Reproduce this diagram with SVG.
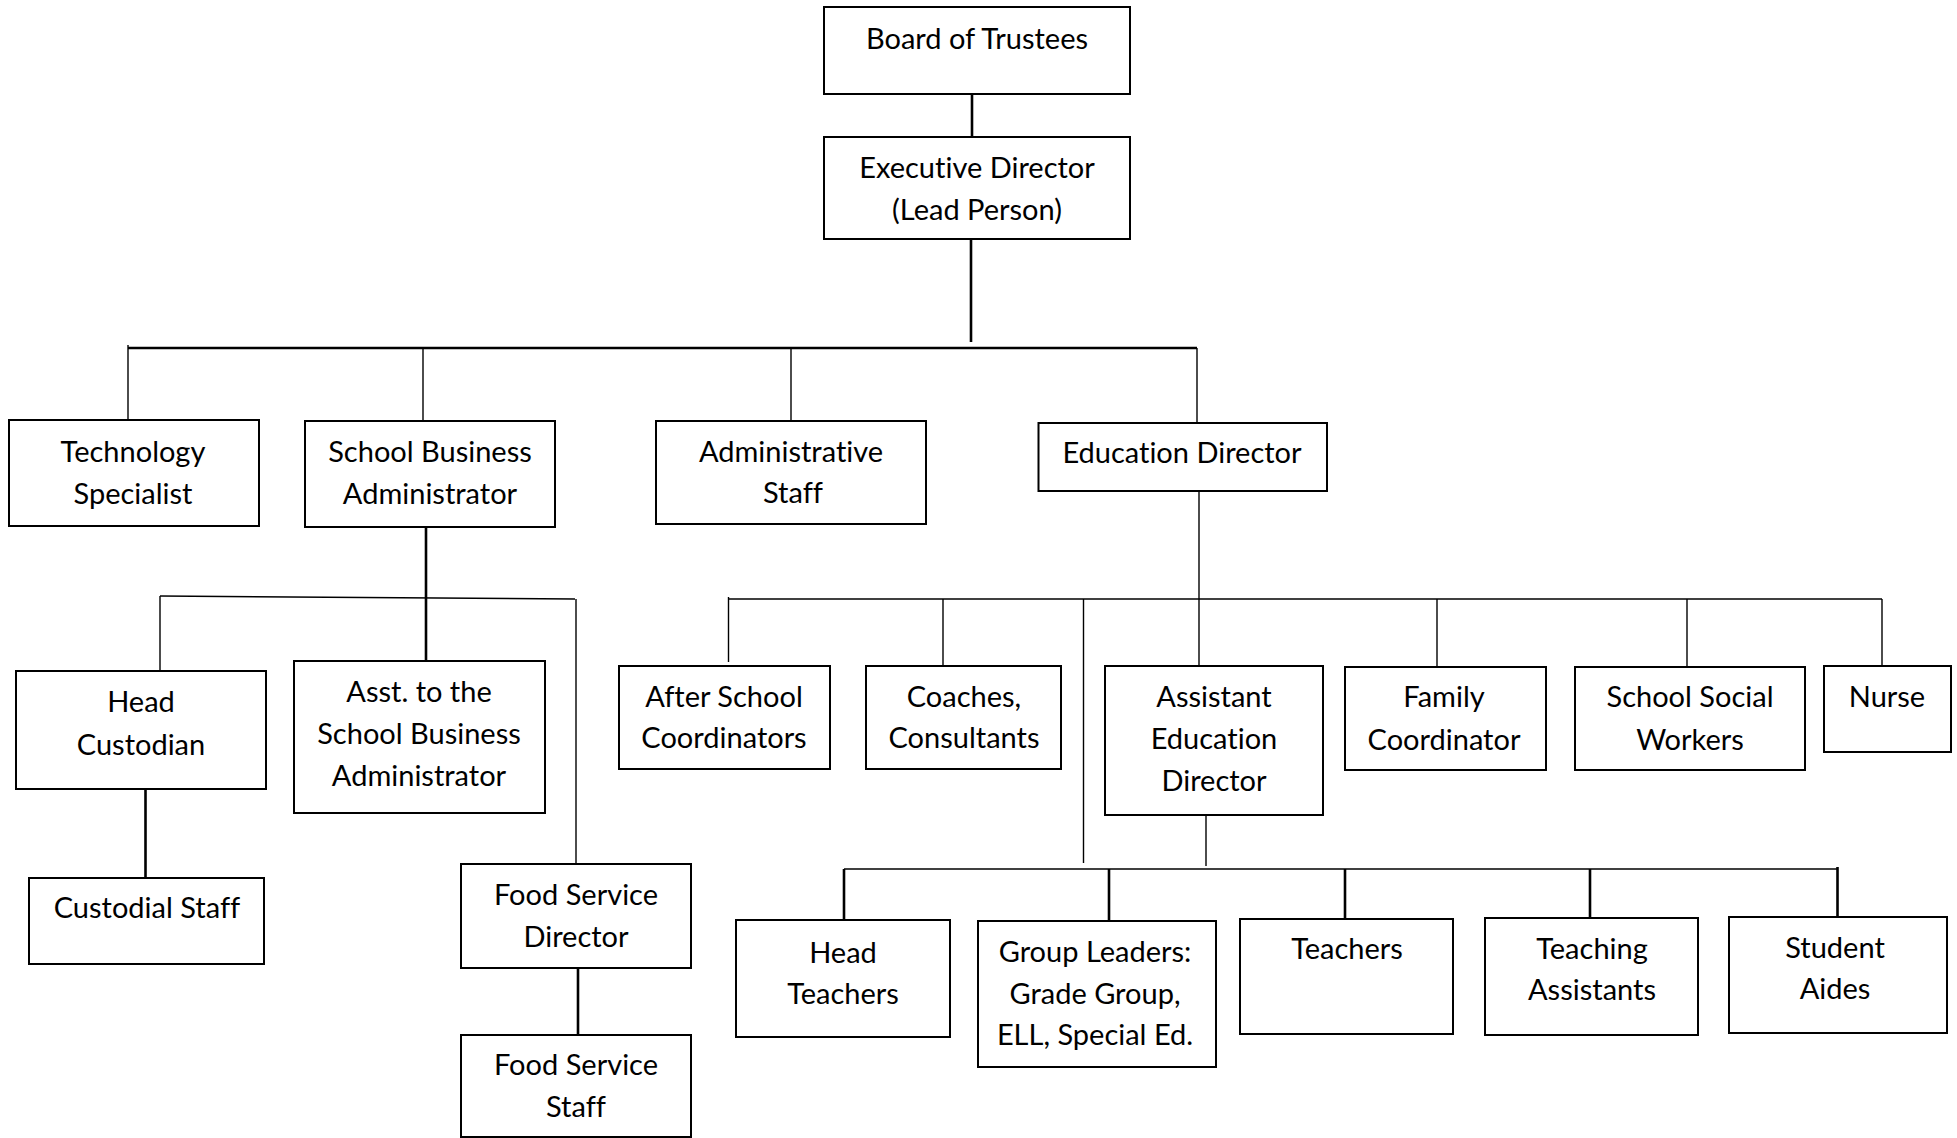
<svg xmlns="http://www.w3.org/2000/svg" width="1957" height="1138" viewBox="0 0 1957 1138">
<style>
rect{fill:#fff;stroke:#000;stroke-width:2}
text{font-family:Lato,"Liberation Sans",sans-serif;font-size:29px;fill:#000;text-anchor:middle;font-variant-ligatures:none}
.c line{stroke:#000;stroke-width:1.4}
.c line.t{stroke-width:2.6}
</style>
<rect x="0" y="0" width="1957" height="1138" style="stroke:none"/>
<g class="c" id="connectors">
<line class="t" x1="972" y1="94" x2="972" y2="137"/>
<line class="t" x1="971" y1="239" x2="971" y2="342"/>
<line class="t" x1="128" y1="348" x2="1197" y2="348"/>
<line x1="128" y1="345" x2="128" y2="420"/>
<line x1="423" y1="348" x2="423" y2="421"/>
<line x1="791" y1="348" x2="791" y2="421"/>
<line x1="1197" y1="348" x2="1197" y2="423"/>
<line class="t" x1="426" y1="527" x2="426" y2="663"/>
<line x1="160" y1="596" x2="575" y2="599"/>
<line x1="160" y1="596" x2="160" y2="671"/>
<line x1="576" y1="599" x2="576" y2="864"/>
<line class="t" x1="145.5" y1="789" x2="145.5" y2="878"/>
<line class="t" x1="578" y1="968" x2="578" y2="1035"/>
<line x1="1199" y1="491" x2="1199" y2="666"/>
<line x1="728.5" y1="599" x2="1882" y2="599"/>
<line x1="728.5" y1="597" x2="728.5" y2="662"/>
<line x1="943" y1="599" x2="943" y2="665"/>
<line x1="1083.5" y1="599" x2="1083.5" y2="863"/>
<line x1="1437" y1="599" x2="1437" y2="667"/>
<line x1="1687" y1="599" x2="1687" y2="667"/>
<line x1="1882" y1="599" x2="1882" y2="666"/>
<line x1="1206" y1="815" x2="1206" y2="866"/>
<line x1="844" y1="869" x2="1837.5" y2="869"/>
<line class="t" x1="844" y1="869" x2="844" y2="920"/>
<line class="t" x1="1109" y1="869" x2="1109" y2="921"/>
<line class="t" x1="1345" y1="869" x2="1345" y2="919"/>
<line class="t" x1="1590" y1="869" x2="1590" y2="918"/>
<line class="t" x1="1837.5" y1="867" x2="1837.5" y2="917"/>
</g>
<g id="board"><rect x="824" y="7" width="306" height="87"/><text x="977" y="49">Board of Trustees</text></g>
<g id="exec"><rect x="824" y="137" width="306" height="102"/><text x="977" y="178">Executive Director</text><text x="977" y="220">(Lead Person)</text></g>
<g id="tech"><rect x="9" y="420" width="250" height="106"/><text x="133" y="462">Technology</text><text x="133" y="504">Specialist</text></g>
<g id="sba"><rect x="305" y="421" width="250" height="106"/><text x="430" y="462">School Business</text><text x="430" y="504">Administrator</text></g>
<g id="admin"><rect x="656" y="421" width="270" height="103"/><text x="791" y="462">Administrative</text><text x="793" y="503">Staff</text></g>
<g id="edudir"><rect x="1038.5" y="423" width="288.5" height="68"/><text x="1182" y="463">Education Director</text></g>
<g id="headcust"><rect x="16" y="671" width="250" height="118"/><text x="141" y="712">Head</text><text x="141" y="755">Custodian</text></g>
<g id="asstsba"><rect x="294" y="661" width="251" height="152"/><text x="419" y="702">Asst. to the</text><text x="419" y="744">School Business</text><text x="419" y="786">Administrator</text></g>
<g id="custstaff"><rect x="29" y="878" width="235" height="86"/><text x="147" y="918">Custodial Staff</text></g>
<g id="fooddir"><rect x="461" y="864" width="230" height="104"/><text x="576" y="905">Food Service</text><text x="576" y="947">Director</text></g>
<g id="foodstaff"><rect x="461" y="1035" width="230" height="102"/><text x="576" y="1075">Food Service</text><text x="576" y="1117">Staff</text></g>
<g id="afterschool"><rect x="619" y="666" width="211" height="103"/><text x="724" y="707">After School</text><text x="724" y="748">Coordinators</text></g>
<g id="coaches"><rect x="866" y="666" width="195" height="103"/><text x="964" y="707">Coaches,</text><text x="964" y="748">Consultants</text></g>
<g id="asstedu"><rect x="1105" y="666" width="218" height="149"/><text x="1214" y="707">Assistant</text><text x="1214" y="749">Education</text><text x="1214" y="791">Director</text></g>
<g id="family"><rect x="1345" y="667" width="201" height="103"/><text x="1444" y="707">Family</text><text x="1444" y="750">Coordinator</text></g>
<g id="ssw"><rect x="1575" y="667" width="230" height="103"/><text x="1690" y="707">School Social</text><text x="1690" y="750">Workers</text></g>
<g id="nurse"><rect x="1824" y="666" width="127" height="86"/><text x="1887" y="707">Nurse</text></g>
<g id="headteach"><rect x="736" y="920" width="214" height="117"/><text x="843" y="963">Head</text><text x="843" y="1004">Teachers</text></g>
<g id="groupleaders"><rect x="978" y="921" width="238" height="146"/><text x="1095" y="962">Group Leaders:</text><text x="1095" y="1004">Grade Group,</text><text x="1095" y="1045">ELL, Special Ed.</text></g>
<g id="teachers"><rect x="1240" y="919" width="213" height="115"/><text x="1347" y="959">Teachers</text></g>
<g id="ta"><rect x="1485" y="918" width="213" height="117"/><text x="1592" y="959">Teaching</text><text x="1592" y="1000">Assistants</text></g>
<g id="aides"><rect x="1729" y="917" width="218" height="116"/><text x="1835" y="958">Student</text><text x="1835" y="999">Aides</text></g>
</svg>
